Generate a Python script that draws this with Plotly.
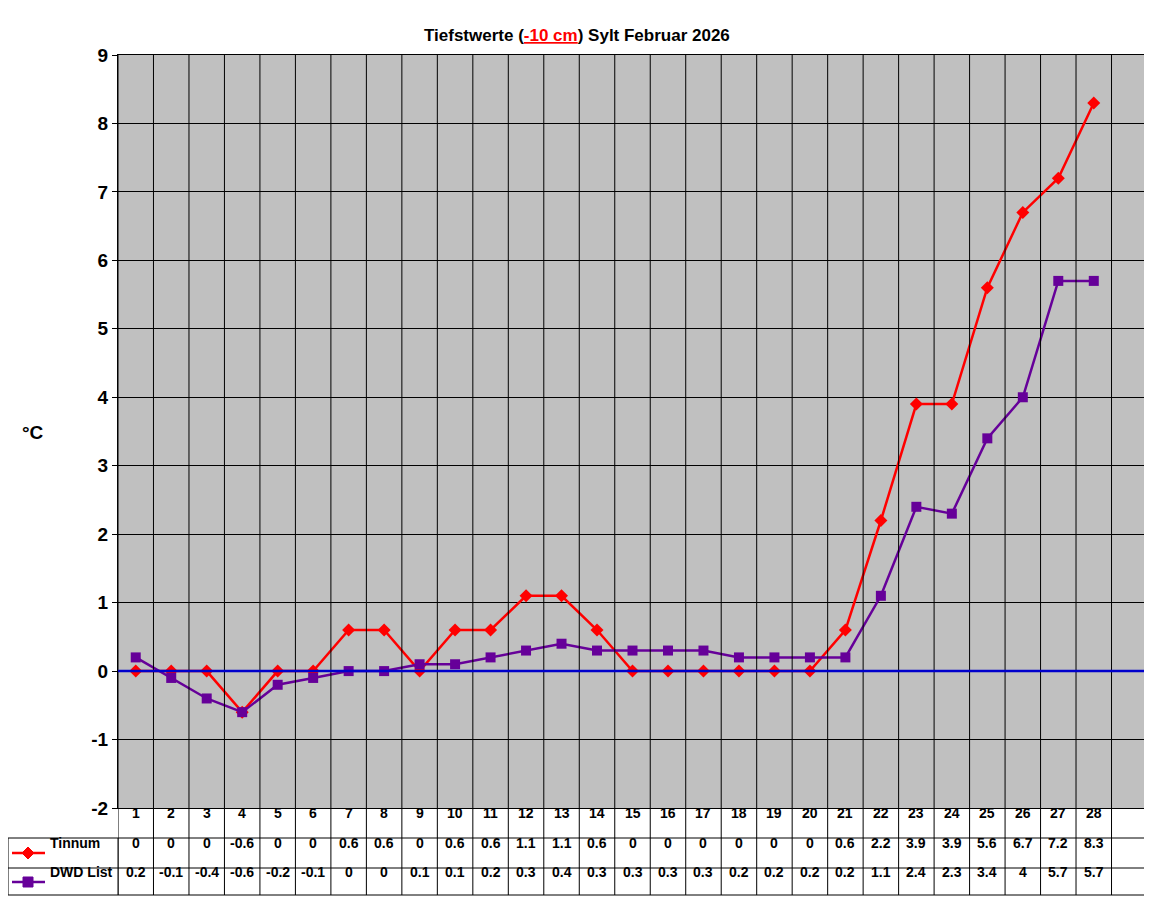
import plotly.graph_objects as go

days = list(range(1, 29))
tinnum = [0,0,0,-0.6,0,0,0.6,0.6,0,0.6,0.6,1.1,1.1,0.6,0,0,0,0,0,0,0.6,2.2,3.9,3.9,5.6,6.7,7.2,8.3]
dwd = [0.2,-0.1,-0.4,-0.6,-0.2,-0.1,0,0,0.1,0.1,0.2,0.3,0.4,0.3,0.3,0.3,0.3,0.2,0.2,0.2,0.2,1.1,2.4,2.3,3.4,4,5.7,5.7]
names = ["Tinnum", "DWD List"]
colors = ["#FF0000", "#660099"]
yticks = list(range(-2, 10))

OFF = 8
L, R, T, B = 118 - OFF, 1147 - OFF, 55 - OFF, 808 - OFF
W, H = 1152, 900
def px(x): return (x - OFF - L) / (R - L)
def py(y): return (B - (y - OFF)) / (B - T)

fig = go.Figure()
fig.add_trace(go.Scatter(x=days, y=tinnum, mode="lines+markers", name=names[0],
    line=dict(color=colors[0], width=2.5), marker=dict(symbol="diamond", size=10, color=colors[0])))
fig.add_trace(go.Scatter(x=days, y=dwd, mode="lines+markers", name=names[1],
    line=dict(color=colors[1], width=2.5), marker=dict(symbol="square", size=10, color=colors[1])))

shapes = []
for i in range(30):
    xb = 0.5 + i
    shapes.append(dict(type="line", xref="x", yref="paper", x0=xb, x1=xb, y0=py(895), y1=1,
                       line=dict(color="black", width=1), layer="above"))
shapes.append(dict(type="line", xref="x", yref="y", x0=0.5, x1=29.5, y0=0, y1=0,
                   line=dict(color="#0000CC", width=2.5), layer="above"))
for yy in [838, 868, 895]:
    shapes.append(dict(type="line", xref="paper", yref="paper", x0=px(8), x1=px(1147), y0=py(yy), y1=py(yy),
                       line=dict(color="black", width=1)))
shapes.append(dict(type="line", xref="paper", yref="paper", x0=px(8), x1=px(8), y0=py(838), y1=py(895),
                   line=dict(color="black", width=1)))
shapes.append(dict(type="line", xref="paper", yref="paper", x0=0, x1=0, y0=py(838), y1=py(895),
                   line=dict(color="black", width=1)))
for k, yc in enumerate([853, 882]):
    shapes.append(dict(type="line", xref="paper", yref="paper", x0=px(12), x1=px(45), y0=py(yc), y1=py(yc),
                       line=dict(color=colors[k], width=2.5)))
cx, cy = 28, 853
shapes.append(dict(type="path", xref="paper", yref="paper",
    path=f"M {px(cx-6)} {py(cy)} L {px(cx)} {py(cy-6)} L {px(cx+6)} {py(cy)} L {px(cx)} {py(cy+6)} Z",
    fillcolor=colors[0], line=dict(color=colors[0], width=1)))
cy = 882
shapes.append(dict(type="rect", xref="paper", yref="paper", x0=px(cx-5), x1=px(cx+5), y0=py(cy+5), y1=py(cy-5),
    fillcolor=colors[1], line=dict(color=colors[1], width=1)))

ann = []
f = dict(family="Liberation Sans, Arial", size=14, color="black")
for i, d in enumerate(days):
    ann.append(dict(x=d, y=py(823), xref="x", yref="paper", text=f"<b>{d}</b>", showarrow=False, font=f))
    ann.append(dict(x=d, y=py(853), xref="x", yref="paper", text=f"<b>{tinnum[i]:g}</b>", showarrow=False, font=f))
    ann.append(dict(x=d, y=py(882), xref="x", yref="paper", text=f"<b>{dwd[i]:g}</b>", showarrow=False, font=f))
for k, yc in enumerate([853, 882]):
    ann.append(dict(x=px(48), y=py(yc), xref="paper", yref="paper", xanchor="left", text=f"<b>{names[k]}</b>",
                    showarrow=False, font=f))
ann.append(dict(x=px(20), y=py(432), xref="paper", yref="paper", text="<b>°C</b>", showarrow=False,
                font=dict(family="Liberation Sans, Arial", size=19, color="black")))
ann.append(dict(x=px(577), y=py(24), xref="paper", yref="paper",
                text="<b>Tiefstwerte (<span style='color:#FF0000'><u>-10 cm</u></span>) Sylt Februar 2026</b>",
                showarrow=False, font=dict(family="Liberation Sans, Arial", size=17, color="black")))

fig.update_layout(
    width=W, height=H, paper_bgcolor="white", plot_bgcolor="#C0C0C0",
    margin=dict(l=L, r=W - R, t=T, b=H - B), showlegend=False,
    shapes=shapes, annotations=ann,
    xaxis=dict(range=[0.5, 29.5], showgrid=False, showticklabels=False, zeroline=False,
               showline=True, linecolor="black", mirror=True, ticks=""),
    yaxis=dict(range=[-2, 9], tickvals=yticks, ticktext=[f"<b>{v}</b>" for v in yticks],
               showgrid=True, gridcolor="black", gridwidth=1, zeroline=False,
               showline=True, linecolor="black", mirror=True, ticks="outside", ticklen=5, tickcolor="black",
               tickfont=dict(family="Liberation Sans, Arial", size=19, color="black")),
)
fig.write_html("out.html")
